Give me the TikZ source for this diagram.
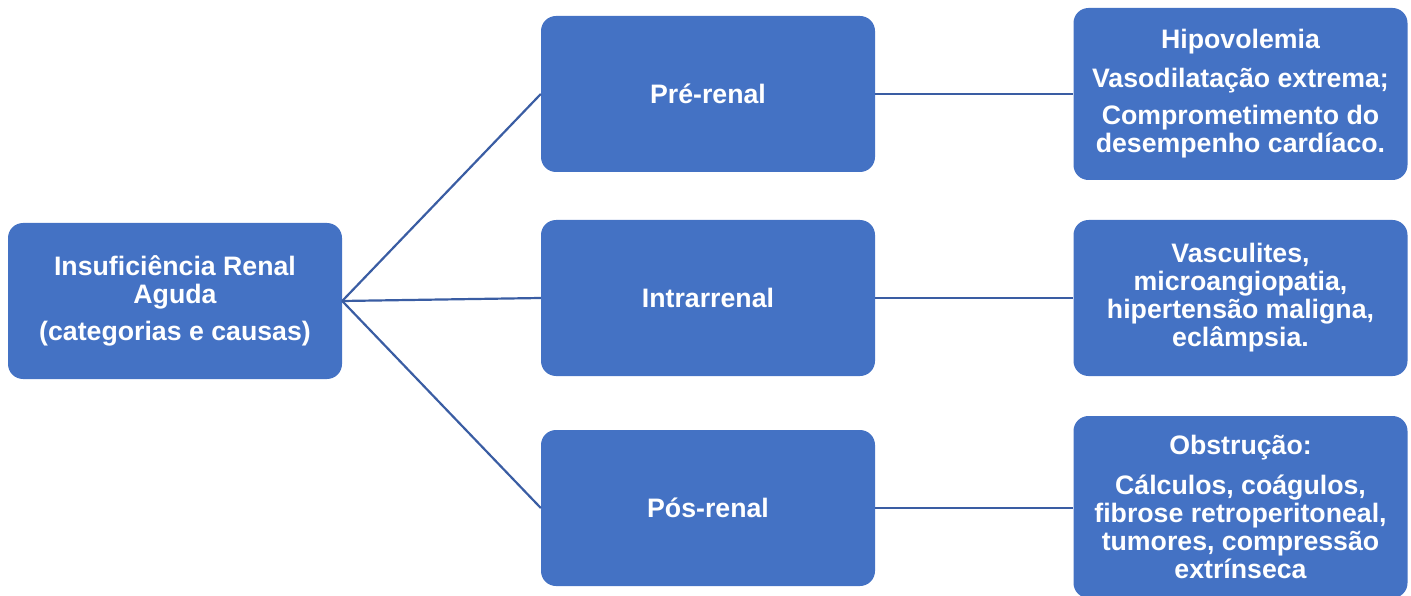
\documentclass[tikz,border=0pt]{standalone}
\usepackage{fontspec}
\setmainfont{Liberation Sans}
\usetikzlibrary{calc}
\definecolor{boxblue}{HTML}{4472C4}
\definecolor{lineblue}{HTML}{3A5DA3}
\tikzset{
	box/.style={rectangle, rounded corners=15pt, fill=boxblue, text=white, align=center, inner sep=0pt,
		font=\fontsize{26.7}{28}\selectfont\bfseries, minimum width=334pt, minimum height=156pt},
	link/.style={line width=2.2pt, color=lineblue}
}

\begin{document}
\begin{tikzpicture}[x=1pt, y=-1pt]
		%%%%% START %%%%%
		\useasboundingbox (0, 0) rectangle (1411, 596);
		
		\node[box] (aki) at (175, 301) {Insuficiência Renal\\ Aguda\\[9pt] (categorias e causas)};
		
		\node[box] (pre) at (708, 94) {Pré-renal};
		\node[box] (intra) at (708, 298) {Intrarrenal};
		\node[box] (pos) at (708, 508) {Pós-renal};
		
		\node[box, minimum height=172pt] (causepre) at (1240.5, 94) {Hipovolemia\\[11pt] Vasodilatação extrema;\\[9pt] Comprometimento do\\ desempenho cardíaco.};
		\node[box] (causeintra) at (1240.5, 298) {Vasculites,\\ microangiopatia,\\ hipertensão maligna,\\ eclâmpsia.};
		\node[box, minimum height=182pt] (causepos) at (1240.5, 507) {Obstrução:\\[12pt] Cálculos, coágulos,\\ fibrose retroperitoneal,\\ tumores, compressão\\ extrínseca};
		
		\draw[link] (aki.east) -- (pre.west);
		\draw[link] (aki.east) -- (intra.west);
		\draw[link] (aki.east) -- (pos.west);
		
		\draw[link] (pre.east) -- (pre.east -| causepre.west);
		\draw[link] (intra.east) -- (intra.east -| causeintra.west);
		\draw[link] (pos.east) -- (pos.east -| causepos.west);
		
		%%%%% END %%%%%
\end{tikzpicture}
\end{document}
